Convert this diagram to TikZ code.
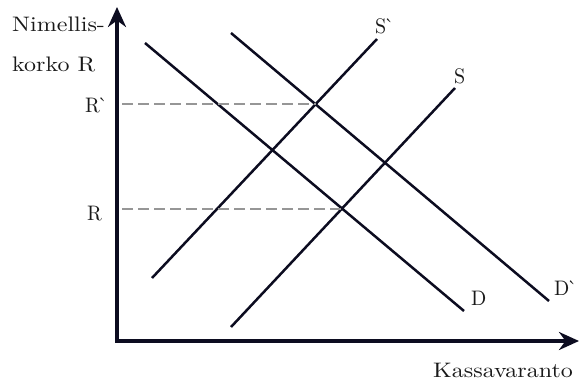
\documentclass[tikz,border=0pt]{standalone}
\usepackage{graphicx}
\usepackage{xcolor}
\usepackage{tikz}
\usetikzlibrary{arrows.meta}

\definecolor{ink}{RGB}{12,12,32}
\definecolor{guidegray}{RGB}{150,150,150}
\newcommand{\widetxt}[1]{\scalebox{2.4}[2.1]{#1}}
\newcommand{\captxt}[1]{\scalebox{2.0}[2.1]{#1}}

\begin{document}
\begin{tikzpicture}[x=1pt,y=-1pt,
		axis/.style={line width=4pt, draw=ink, {Stealth[length=20pt,width=18pt]}-{Stealth[length=20pt,width=18pt]}},
		curve/.style={line width=2.5pt, draw=ink},
		guide/.style={line width=2pt, draw=guidegray, dash pattern=on 11pt off 5pt},
		lbl/.style={inner sep=0pt, anchor=base west, text=black!90}]
				\useasboundingbox (0,0) rectangle (580,380);
				
				% axes
				\coordinate (O) at (117,341);
				\coordinate (ytip) at (117,7);
				\coordinate (xtip) at (579,341);
				\draw[axis] (ytip) -- (O) -- (xtip);
				
				% demand and supply lines
				\coordinate (D1) at (145,43);   \coordinate (D2) at (464,311);
				\coordinate (Dp1) at (231,33);  \coordinate (Dp2) at (549,301);
				\coordinate (S1) at (231,327);  \coordinate (S2) at (455,88);
				\coordinate (Sp1) at (152,278); \coordinate (Sp2) at (377,39);
				\draw[curve] (D1) -- (D2);
				\draw[curve] (Dp1) -- (Dp2);
				\draw[curve] (S1) -- (S2);
				\draw[curve] (Sp1) -- (Sp2);
				
				% equilibria
				\coordinate (E1) at (intersection of S1--S2 and D1--D2);
				\coordinate (E2) at (intersection of Sp1--Sp2 and Dp1--Dp2);
				\draw[guide] ([xshift=5pt]O |- E1) -- (E1);
				\draw[guide] ([xshift=5pt]O |- E2) -- (E2);
				
				\node[lbl] (ylab1) at (12,31) {\widetxt{Nimellis-}};
				\node[lbl] (ylab2) at (12,71) {\widetxt{korko R}};
				\node[lbl] (xlab) at (433,377) {\widetxt{Kassavaranto}};
				\node[lbl] (Rp) at (85,112) {\captxt{R\kern-1pt\textasciigrave}};
				\node[lbl] (R) at (87,220) {\captxt{R}};
				\node[lbl] (Sp) at (375,33) {\captxt{S\kern-1pt\textasciigrave}};
				\node[lbl] (S) at (454,83) {\captxt{S}};
				\node[lbl] (D) at (471,305) {\captxt{D}};
				\node[lbl] (Dp) at (554,295) {\captxt{D\kern-1pt\textasciigrave}};
			\end{tikzpicture}
\end{document}
